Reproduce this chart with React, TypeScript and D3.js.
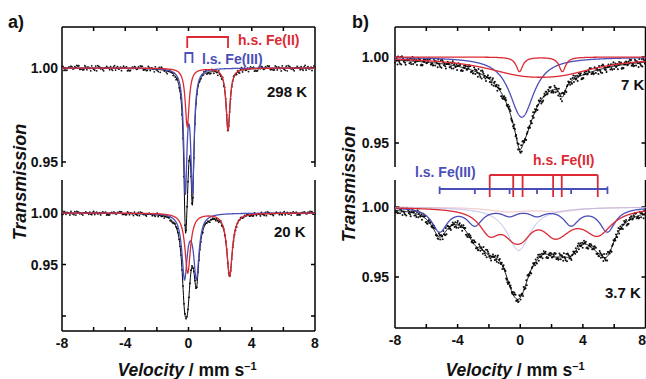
import React from 'react';
import * as d3 from 'd3';

// velocity axis
const velocityLabels = [-8, -4, 0, 4, 8];
const velocityTicks = [-6, -4, -2, 0, 2, 4, 6];

// a) 298 K : line positions (mm/s), depths, FWHM
const rtHsPos = [-0.08, 2.5];
const rtHsDepth = [0.031, 0.033];
const rtHsWidth = [0.3, 0.3];
const rtLsPos = [-0.2, 0.25];
const rtLsDepth = [0.063, 0.063];
const rtLsWidth = [0.25, 0.25];

// a) 20 K
const k20HsPos = [-0.05, 2.6];
const k20HsDepth = [0.058, 0.061];
const k20HsWidth = [0.42, 0.42];
const k20LsPos = [-0.25, 0.5];
const k20LsDepth = [0.061, 0.061];
const k20LsWidth = [0.4, 0.4];

// b) 7 K
const k7HsPos = [-0.05, 2.69];
const k7HsDepth = [0.0085, 0.0085];
const k7HsWidth = [0.5, 0.5];
const k7BroadPos = [0, 2.6];
const k7BroadDepth = [0.007, 0.007];
const k7BroadWidth = [6, 6];
const k7LsPos = [-0.05, 0.25];
const k7LsDepth = [0.018, 0.018];
const k7LsWidth = [1.8, 1.8];

// b) 3.7 K
const k37HsPos = [-1.95, -0.45, 0.15, 2.1, 2.65, 4.95];
const k37HsDepth = [0.016, 0.012, 0.012, 0.01, 0.009, 0.018];
const k37HsWidth = [1.6, 1.6, 1.6, 1.6, 2.0, 2.2];
const k37LsPos = [-5.15, -2.9, -0.68, 1.07, 3.25, 5.57];
const k37LsDepth = [0.017, 0.012, 0.005, 0.005, 0.012, 0.017];
const k37LsWidth = [1.2, 1.2, 1.2, 1.2, 1.2, 1.2];
const k37ParaLsPos = [-0.1];
const k37ParaLsDepth = [0.031];
const k37ParaLsWidth = [1.8];
const k37ParaHsPos = [-0.8, 2.4];
const k37ParaHsDepth = [0.003, 0.003];
const k37ParaHsWidth = [3, 3];

// scatter of the measured points about the fit (units of noise)
const residuals = [
  0.3, -0.8, 0.5, 1.0, -0.2, -0.6, 0.9, -1.0, 0.1, 0.7, -0.4, 0.2, -0.9, 0.6, 0.0, -0.3,
  0.8, -0.7, 0.4, -0.1, 1.0, -0.5, 0.2, -0.8, 0.6, 0.1, -0.9, 0.5, -0.2, 0.9, -0.6, 0.3,
  -0.4, 0.7, -1.0, 0.2, 0.5, -0.3, 0.8, -0.7, 0.0, 0.6, -0.5, 0.9, -0.1, -0.8, 0.4, 0.1,
  -0.6, 1.0, -0.2, 0.3, -0.9, 0.7, 0.2, -0.4, 0.5, -1.0, 0.8, -0.3, 0.1, 0.6, -0.7, 0.4,
];

const RED = '#dc2a33';
const BLUE = '#4b4fb8';
const LAVENDER = '#b4b4e6';
const PINK = '#f2b4bc';
const FONT = '"Liberation Sans", Arial, Helvetica, sans-serif';

type Part = { pos: number[]; depth: number[]; width: number[] };
const part = (pos: number[], depth: number[], width: number[]): Part => ({ pos, depth, width });

const absorb = (v: number, p: Part) =>
  d3.sum(p.pos, (c, i) => p.depth[i] / (1 + ((v - c) / (p.width[i] / 2)) ** 2));
const trans = (v: number, parts: Part[]) => 1 - d3.sum(parts, p => absorb(v, p));

const fine = d3.range(-8, 8.0001, 0.02);

type Scale = d3.ScaleLinear<number, number>;

const curvePath = (x: Scale, y: Scale, parts: Part[]) =>
  d3.line<number>().x(v => x(v)).y(v => y(trans(v, parts)))(fine) as string;

function Spectrum({ x, y, comps, n, noise, seed, r }: {
  x: Scale; y: Scale; comps: { parts: Part[]; color: string; w?: number }[];
  n: number; noise: number; seed: number; r: number;
}) {
  const all = comps.flatMap(c => c.parts);
  const channels = d3.range(n).map(i => -8 + (16 * i) / (n - 1));
  return (
    <g>
      {channels.map((v, i) => (
        <circle key={i} cx={x(v)} cy={y(trans(v, all) + residuals[(i * 13 + seed) % residuals.length] * noise)}
          r={r} fill="#111" />
      ))}
      <path d={curvePath(x, y, all)} fill="none" stroke="#000" strokeWidth={1} />
      {comps.map((c, i) => (
        <path key={i} d={curvePath(x, y, c.parts)} fill="none" stroke={c.color} strokeWidth={c.w ?? 1.3} />
      ))}
    </g>
  );
}

function Frame({ x, y, top, bottom, hasTop, hasBottom, yTicks, yLabels, labelX }: {
  x: Scale; y: Scale; top: number; bottom: number; hasTop: boolean; hasBottom: boolean;
  yTicks: number[]; yLabels: number[]; labelX: number;
}) {
  const [x0, x1] = x.range();
  const t = 4;
  return (
    <g stroke="#000" strokeWidth={1.5} fill="none">
      <line x1={x0} x2={x0} y1={top} y2={bottom} />
      <line x1={x1} x2={x1} y1={top} y2={bottom} />
      {hasTop && <line x1={x0} x2={x1} y1={top} y2={top} />}
      {hasBottom && <line x1={x0} x2={x1} y1={bottom} y2={bottom} />}
      {hasTop && velocityTicks.map(v => <line key={'t' + v} x1={x(v)} x2={x(v)} y1={top} y2={top + t} />)}
      {hasBottom && velocityTicks.map(v => <line key={'b' + v} x1={x(v)} x2={x(v)} y1={bottom} y2={bottom - t} />)}
      {yTicks.map(v => (
        <g key={'y' + v}>
          <line x1={x0} x2={x0 + t} y1={y(v)} y2={y(v)} />
          <line x1={x1} x2={x1 - t} y1={y(v)} y2={y(v)} />
        </g>
      ))}
      {yLabels.map(v => (
        <text key={'l' + v} x={labelX} y={y(v)} dy="0.36em" textAnchor="end" stroke="none" fill="#111"
          fontSize={14} fontWeight="bold">{v.toFixed(2)}</text>
      ))}
      {hasBottom && velocityLabels.map(v => {
        // keep the last label inside the picture
        const edge = x(v) + 5 > 646;
        return (
          <text key={'v' + v} x={edge ? 646 : x(v)} y={bottom + 17} textAnchor={edge ? 'end' : 'middle'}
            stroke="none" fill="#111" fontSize={14} fontWeight="bold">{v}</text>
        );
      })}
    </g>
  );
}

export default function App() {
  const xA = d3.scaleLinear().domain([-8, 8]).range([62, 315]);
  const xB = d3.scaleLinear().domain([-8, 8]).range([395, 645.5]);
  const y298 = d3.scaleLinear().domain([1, 0.95]).range([68, 162]);
  const y20 = d3.scaleLinear().domain([1, 0.95]).range([213, 264.5]);
  const y7 = d3.scaleLinear().domain([1, 0.95]).range([57, 143]);
  const y37 = d3.scaleLinear().domain([1, 0.95]).range([207, 277]);

  const title = (cx: number) => (
    <text x={cx} y={376} textAnchor="middle" fontSize={17.5} fontWeight="bold" fill="#111">
      <tspan fontStyle="italic">Velocity</tspan> / mm s<tspan dy={-6} fontSize={11}>–1</tspan>
    </text>
  );
  const yTitle = (bx: number, cy: number) => (
    <text transform={`translate(${bx},${cy}) rotate(-90)`} textAnchor="middle" fontSize={18}
      fontWeight="bold" fontStyle="italic" fill="#111">Transmission</text>
  );

  return (
    <div style={{ position: 'absolute', left: 0, top: 0 }}>
      <svg width={646} height={379} style={{ display: 'block', fontFamily: FONT, background: '#fff' }}>
        {/* panel a */}
        <text x={8} y={28} fontSize={18} fontWeight="bold" fill="#111">a)</text>
        <Frame x={xA} y={y298} top={27} bottom={167} hasTop hasBottom={false}
          yTicks={[1, 0.95]} yLabels={[1, 0.95]} labelX={58} />
        <Frame x={xA} y={y20} top={180} bottom={331} hasTop={false} hasBottom
          yTicks={[1, 0.95, 0.9]} yLabels={[1, 0.95]} labelX={58} />
        <Spectrum x={xA} y={y298} n={256} noise={0.0014} seed={0} r={0.9}
          comps={[
            { parts: [part(rtLsPos, rtLsDepth, rtLsWidth)], color: BLUE },
            { parts: [part(rtHsPos, rtHsDepth, rtHsWidth)], color: RED },
          ]} />
        <Spectrum x={xA} y={y20} n={256} noise={0.0018} seed={17} r={0.9}
          comps={[
            { parts: [part(k20LsPos, k20LsDepth, k20LsWidth)], color: BLUE },
            { parts: [part(k20HsPos, k20HsDepth, k20HsWidth)], color: RED },
          ]} />
        <path d={`M${xA(rtHsPos[0])},48V37H${xA(rtHsPos[1])}V48`} fill="none" stroke={RED} strokeWidth={1.8} />
        <path d={`M${xA(rtLsPos[0])},63V53H${xA(rtLsPos[1])}V63`} fill="none" stroke={BLUE} strokeWidth={1.8} />
        <text x={238} y={45} fontSize={14} fontWeight="bold" fill={RED}>h.s. Fe(II)</text>
        <text x={202} y={64} fontSize={14} fontWeight="bold" fill={BLUE}>l.s. Fe(III)</text>
        <text x={267} y={97} fontSize={15} fontWeight="bold" fill="#111">298 K</text>
        <text x={274} y={237} fontSize={15} fontWeight="bold" fill="#111">20 K</text>
        {yTitle(26, 182)}
        {title(187)}

        {/* panel b */}
        <text x={352} y={28} fontSize={18} fontWeight="bold" fill="#111">b)</text>
        <Frame x={xB} y={y7} top={27} bottom={167} hasTop hasBottom={false}
          yTicks={[1, 0.95]} yLabels={[1, 0.95]} labelX={389} />
        <Frame x={xB} y={y37} top={180} bottom={328} hasTop={false} hasBottom
          yTicks={[1, 0.95]} yLabels={[1, 0.95]} labelX={389} />
        <Spectrum x={xB} y={y7} n={400} noise={0.0024} seed={5} r={1}
          comps={[
            { parts: [part(k7LsPos, k7LsDepth, k7LsWidth)], color: BLUE },
            { parts: [part(k7HsPos, k7HsDepth, k7HsWidth)], color: RED },
            { parts: [part(k7BroadPos, k7BroadDepth, k7BroadWidth)], color: RED },
          ]} />
        <Spectrum x={xB} y={y37} n={400} noise={0.0028} seed={29} r={1}
          comps={[
            { parts: [part(k37ParaHsPos, k37ParaHsDepth, k37ParaHsWidth)], color: PINK, w: 1 },
            { parts: [part(k37ParaLsPos, k37ParaLsDepth, k37ParaLsWidth)], color: LAVENDER, w: 1 },
            { parts: [part(k37LsPos, k37LsDepth, k37LsWidth)], color: BLUE },
            { parts: [part(k37HsPos, k37HsDepth, k37HsWidth)], color: RED },
          ]} />
        {/* stick diagrams */}
        <g stroke={RED} strokeWidth={1.8} fill="none">
          <line x1={xB(k37HsPos[0])} x2={xB(k37HsPos[k37HsPos.length - 1])} y1={175} y2={175} />
          {k37HsPos.map(v => <line key={v} x1={xB(v)} x2={xB(v)} y1={175} y2={197} />)}
        </g>
        <g stroke={BLUE} strokeWidth={1.8} fill="none">
          <line x1={xB(k37LsPos[0])} x2={xB(k37LsPos[k37LsPos.length - 1])} y1={189} y2={189} />
          {k37LsPos.map((v, i) => (
            <line key={v} x1={xB(v)} x2={xB(v)}
              y1={i === 0 || i === k37LsPos.length - 1 ? 186.5 : 189} y2={194} />
          ))}
        </g>
        <text x={533} y={165} fontSize={14} fontWeight="bold" fill={RED}>h.s. Fe(II)</text>
        <text x={415} y={177} fontSize={14} fontWeight="bold" fill={BLUE}>l.s. Fe(III)</text>
        <text x={621} y={90} fontSize={15} fontWeight="bold" fill="#111">7 K</text>
        <text x={605} y={298} fontSize={15} fontWeight="bold" fill="#111">3.7 K</text>
        {yTitle(355, 184)}
        {title(515)}
      </svg>
    </div>
  );
}
